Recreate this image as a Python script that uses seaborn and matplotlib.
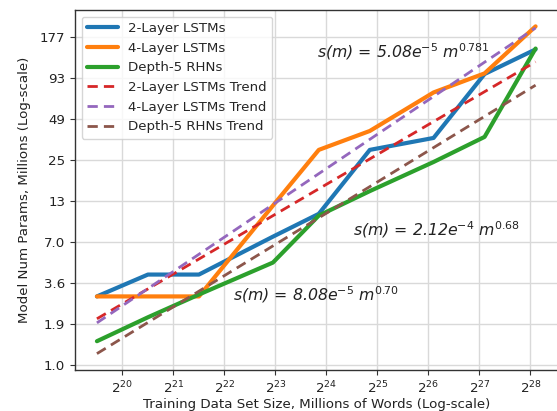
import numpy as np
import pandas as pd
import matplotlib
matplotlib.use("Agg")
import matplotlib.pyplot as plt
import seaborn as sns
from matplotlib.ticker import NullLocator, FixedLocator, FixedFormatter

# ---- data ----
x_log2 = [19.5, 20.5, 21.5, 22.95, 23.85, 24.85, 26.1, 27.1, 28.1]
lstm2 = [2.96, 4.18, 4.18, 7.6, 10.9, 29.9, 36.1, 99.0, 146.0]
lstm4 = [2.96, 2.96, 2.96, 12.4, 29.9, 40.3, 74.0, 100.0, 210.0]
rhn5 = [1.46, 2.13, 3.05, 5.05, 10.6, 15.6, 24.7, 36.7, 148.0]

trend_x_log2 = [19.5, 28.1]
lstm2_trend = [2.08, 120.0]
lstm4_trend = [1.95, 205.0]
rhn5_trend = [1.20, 83.0]

series_names = ["2-Layer LSTMs", "4-Layer LSTMs", "Depth-5 RHNs"]
trend_names = ["2-Layer LSTMs Trend", "4-Layer LSTMs Trend", "Depth-5 RHNs Trend"]

ytick_vals = [1.0, 1.91, 3.65, 6.97, 13.3, 25.4, 48.6, 92.8, 177.3]
ytick_labels = ["1.0", "1.9", "3.6", "7.0", "13", "25", "49", "93", "177"]
xtick_exp = [20, 21, 22, 23, 24, 25, 26, 27, 28]

annotations = [
    (r"s(m) = 5.08e$^{-5}$ m$^{0.781}$", 317, 52),
    (r"s(m) = 2.12e$^{-4}$ m$^{0.68}$", 353, 230),
    (r"s(m) = 8.08e$^{-5}$ m$^{0.70}$", 233, 295),
]

# ---- build frames ----
x_vals = [2.0 ** e for e in x_log2]
tx_vals = [2.0 ** e for e in trend_x_log2]
main_df = {
    n: pd.DataFrame({"x": x_vals, "y": ys})
    for n, ys in zip(series_names, [lstm2, lstm4, rhn5])
}
trend_df = {
    n: pd.DataFrame({"x": tx_vals, "y": ys})
    for n, ys in zip(trend_names, [lstm2_trend, lstm4_trend, rhn5_trend])
}

sns.set_style("ticks")
plt.rcParams["font.family"] = ["DejaVu Sans"]
plt.rcParams["mathtext.default"] = "it"
plt.rcParams["mathtext.fontset"] = "dejavusans"

W, H = 557, 411
fig = plt.figure(figsize=(W / 100, H / 100), dpi=100)
ax = fig.add_axes([75 / W, 1 - 370 / H, (557.5 - 75) / W, (370 - 10) / H])

pal = sns.color_palette("tab10")

for i, n in enumerate(series_names):
    sns.lineplot(data=main_df[n], x="x", y="y", color=pal[i], linewidth=3.0,
                 ax=ax, label=n, sort=False)
for i, n in enumerate(trend_names):
    sns.lineplot(data=trend_df[n], x="x", y="y", color=pal[3 + i], linewidth=2.0,
                 linestyle=(0, (3.7, 2.2)), ax=ax, label=n, sort=False)

ax.set_xscale("log", base=2)
ax.set_yscale("log")
ax.margins(0.05)

ax.xaxis.set_major_locator(FixedLocator([2.0 ** e for e in xtick_exp]))
ax.xaxis.set_major_formatter(FixedFormatter([r"$\mathdefault{2^{%d}}$" % e for e in xtick_exp]))
ax.xaxis.set_minor_locator(NullLocator())
ax.yaxis.set_major_locator(FixedLocator(ytick_vals))
ax.yaxis.set_major_formatter(FixedFormatter(ytick_labels))
ax.yaxis.set_minor_locator(NullLocator())

ax.grid(True, color="#d9d9d9", linewidth=1.0)
for s in ax.spines.values():
    s.set_color("#333333")
    s.set_linewidth(1.0)
ax.tick_params(labelsize=9.6, colors="#333333", length=3.5)
for lab in ax.get_xticklabels() + ax.get_yticklabels():
    lab.set_color("#222222")

ax.set_xlabel("Training Data Set Size, Millions of Words (Log-scale)", fontsize=9.6,
              color="#222222", labelpad=1)
ax.set_ylabel("Model Num Params, Millions (Log-scale)", fontsize=9.6, color="#222222",
              labelpad=6)

leg = ax.legend(loc="upper left", fontsize=9.6, frameon=True,
                handlelength=2.3, borderaxespad=0.5)
leg.get_frame().set_edgecolor("#cccccc")

for txt, px, py in annotations:
    fig.text(px / W, 1 - py / H, txt, fontsize=11.3, style="italic", color="#222222",
             ha="left", va="center")

fig.savefig("out.png", dpi=100)
